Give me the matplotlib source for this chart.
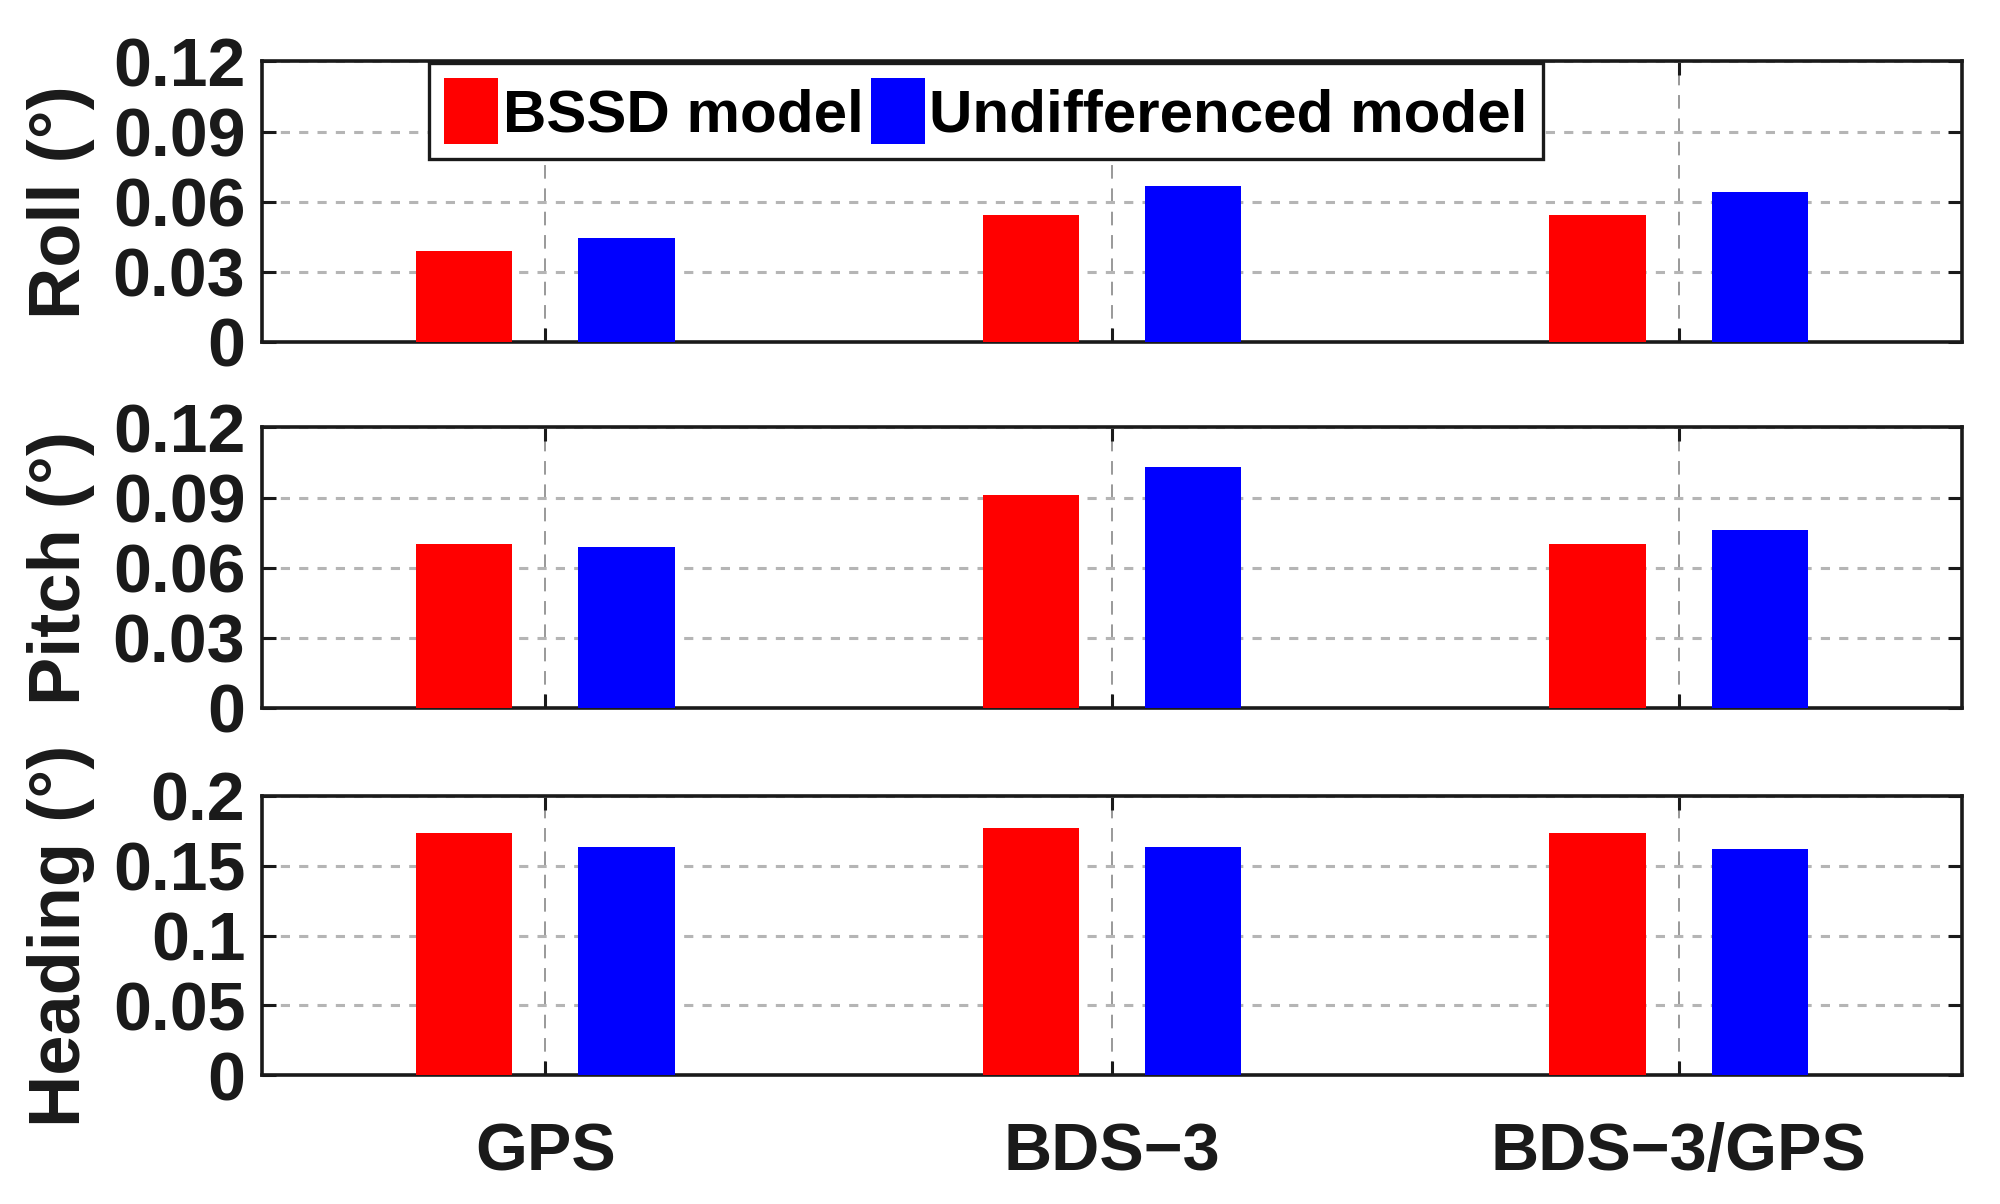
import numpy as np
import matplotlib
matplotlib.use("Agg")
import matplotlib.pyplot as plt

plt.rcParams['font.family'] = ['Liberation Sans', 'DejaVu Sans']
plt.rcParams['font.weight'] = 'bold'

# data
systems = ['GPS', 'BDS\u22123', 'BDS\u22123/GPS']
series = ['BSSD model', 'Undifferenced model']
roll_bssd = [0.039, 0.0545, 0.0545]
roll_ud = [0.0443, 0.0665, 0.0640]
pitch_bssd = [0.0703, 0.0910, 0.0703]
pitch_ud = [0.0687, 0.1030, 0.0763]
head_bssd = [0.1737, 0.1770, 0.1734]
head_ud = [0.1634, 0.1634, 0.1620]

ylabels = ['Roll (\u00b0)', 'Pitch (\u00b0)', 'Heading (\u00b0)']
yticks_list = [[0, 0.03, 0.06, 0.09, 0.12],
               [0, 0.03, 0.06, 0.09, 0.12],
               [0, 0.05, 0.1, 0.15, 0.2]]
yticklabels_list = [['0', '0.03', '0.06', '0.09', '0.12'],
                    ['0', '0.03', '0.06', '0.09', '0.12'],
                    ['0', '0.05', '0.1', '0.15', '0.2']]
colors = ['#ff0000', '#0000ff']

fig = plt.figure(figsize=(20, 12.04), dpi=100)
left, right = 0.131, 0.981
boxes = [(0.716, 0.949), (0.412, 0.645), (0.107, 0.339)]
data = [(roll_bssd, roll_ud), (pitch_bssd, pitch_ud), (head_bssd, head_ud)]

x = np.arange(1, len(systems) + 1)
off = 0.143
w = 0.17

for i, (b, t) in enumerate(boxes):
    ax = fig.add_axes([left, b, right - left, t - b])
    r, u = data[i]
    ax.bar(x - off, r, w, color=colors[0], label=series[0], zorder=3)
    ax.bar(x + off, u, w, color=colors[1], label=series[1], zorder=3)
    ax.set_xlim(0.5, 3.5)
    yt = yticks_list[i]
    ax.set_ylim(yt[0], yt[-1])
    ax.set_yticks(yt)
    ax.set_yticklabels(yticklabels_list[i])
    ax.set_xticks(x)
    if i == 2:
        ax.set_xticklabels(systems)
    else:
        ax.set_xticklabels([])
    ax.set_axisbelow(True)
    ax.yaxis.grid(True, linestyle=(0, (3, 3)), color='#b5b5b5', linewidth=2.2)
    ax.xaxis.grid(True, linestyle=(0, (7, 5)), color='#999999', linewidth=1.4)
    ax.tick_params(direction='in', length=10, width=2.2, top=True, right=True,
                   labelsize=49, colors='#1a1a1a')
    ax.tick_params(axis='x', labelsize=48, pad=34)
    ax.tick_params(axis='y', pad=12)
    for sp in ax.spines.values():
        sp.set_linewidth(2.6)
        sp.set_color('#1a1a1a')
    ax.set_ylabel(ylabels[i], fontsize=52, fontweight='bold', color='#1a1a1a')
    ax.yaxis.set_label_coords(-0.098, 0.5)
    for lab in ax.get_xticklabels() + ax.get_yticklabels():
        lab.set_fontweight('bold')
    if i == 0:
        leg = ax.legend(loc='upper left', bbox_to_anchor=(0.098, 0.993), ncol=2,
                        fontsize=43.3, frameon=True, fancybox=False,
                        handlelength=0.9, handleheight=1.3, handletextpad=0.08,
                        columnspacing=0.12, borderpad=0.25, borderaxespad=0.0,
                        edgecolor='#1a1a1a', framealpha=1.0)
        leg.get_frame().set_linewidth(2.4)
        for txt in leg.get_texts():
            txt.set_fontweight('bold')

fig.savefig('out.png', dpi=100)
